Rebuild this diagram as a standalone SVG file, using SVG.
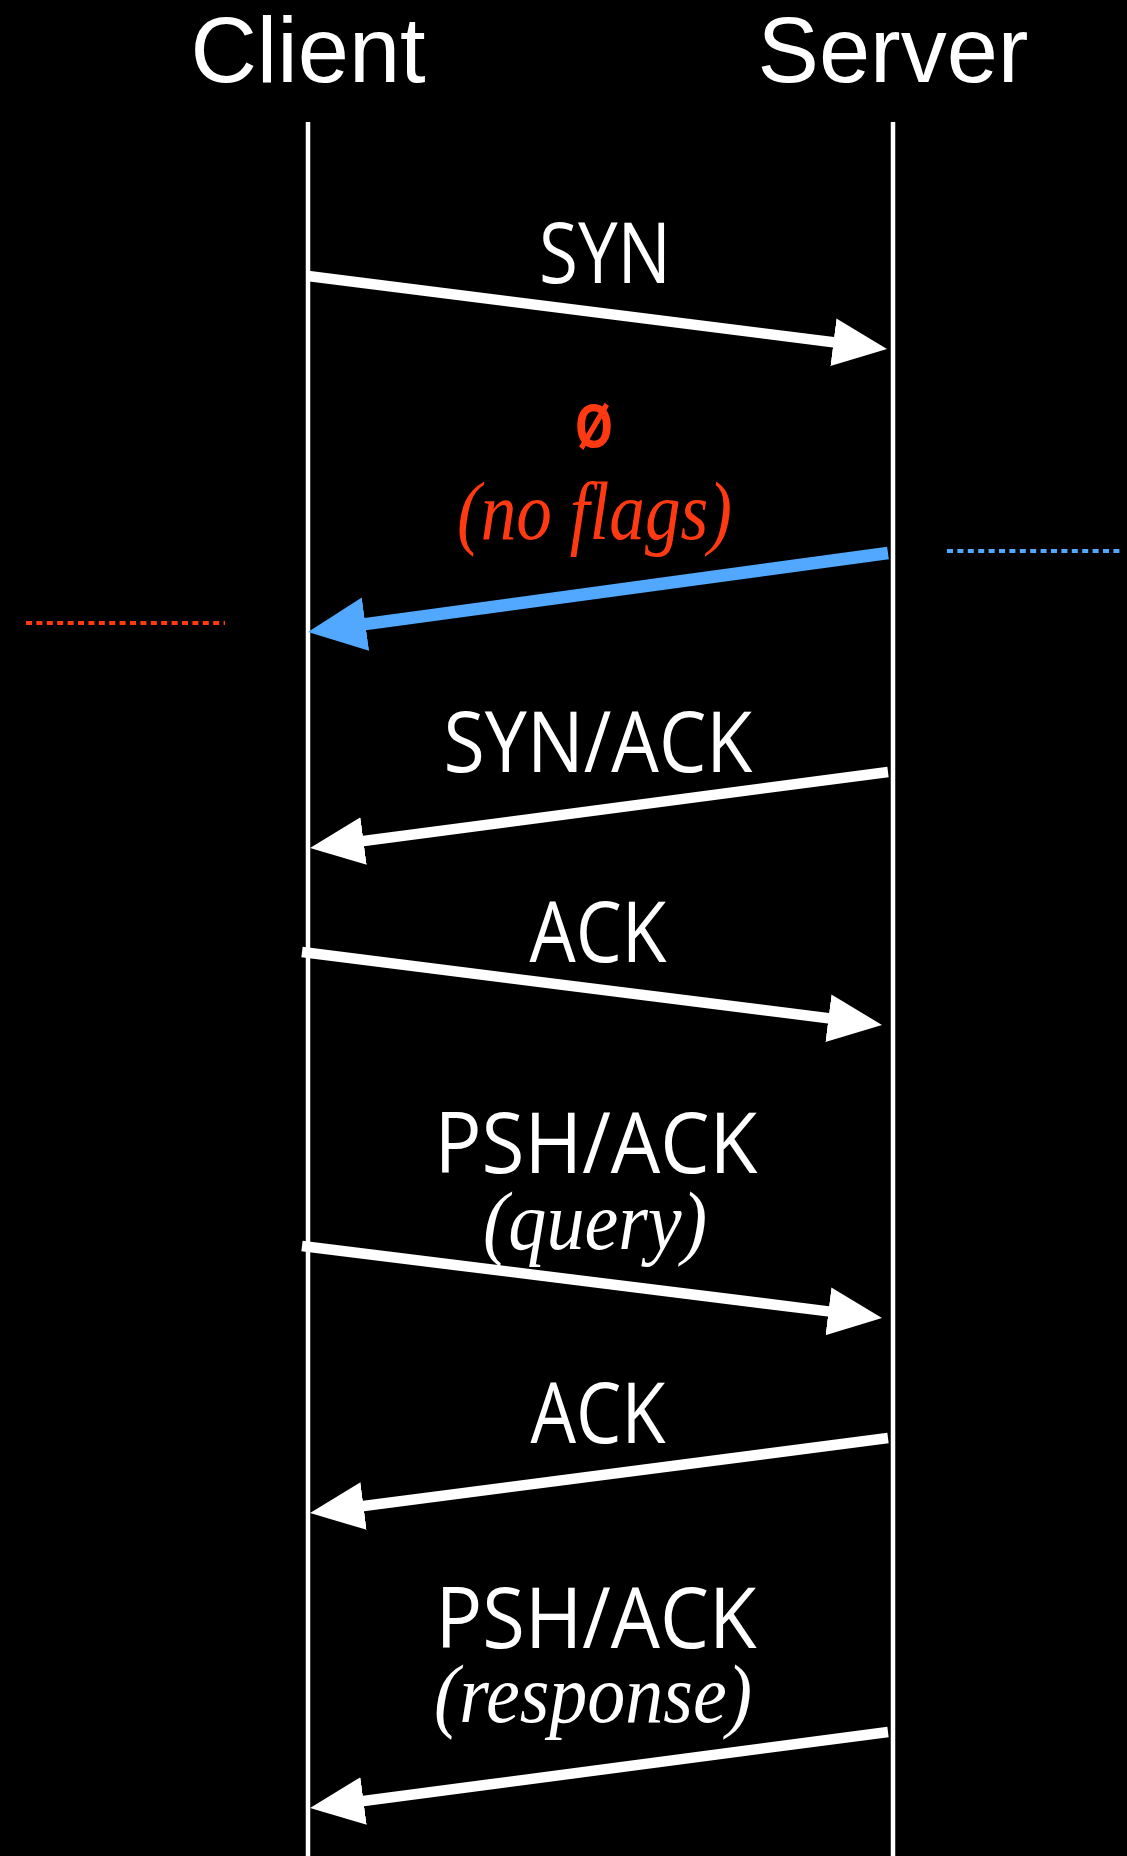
<svg xmlns="http://www.w3.org/2000/svg" width="1127" height="1856" viewBox="0 0 1127 1856">
  <style>
    .hdr { font-family: "Liberation Sans", Arial, sans-serif; font-size: 92px; fill: #fff; text-anchor: middle; }
    .lbl { font-family: "Open Sans", "Noto Sans", sans-serif; font-size: 84px; fill: #fff; text-anchor: middle; }
    .sub { font-family: "Liberation Serif", "Times New Roman", serif; font-style: italic; font-size: 82px; fill: #fff; text-anchor: middle; }
    .red { fill: #FF3A12; }
    .life { stroke: #fff; stroke-width: 4.5; fill: none; }
    .msg { stroke: #fff; stroke-width: 10.5; fill: none; marker-end: url(#ah); }
    .msgb { stroke: #52A8FF; stroke-width: 12.5; fill: none; marker-end: url(#ahb); }
    .dot { stroke-width: 4; stroke-dasharray: 6 4.4; fill: none; }
  </style>
  <defs>
    <marker id="ah" markerUnits="userSpaceOnUse" viewBox="0 -26 58 52" refX="2" refY="0" markerWidth="58" markerHeight="52" orient="auto">
      <path d="M0,-24 L54,0 L0,24 z" fill="#fff"/>
    </marker>
    <marker id="ahb" markerUnits="userSpaceOnUse" viewBox="0 -28 60 56" refX="2" refY="0" markerWidth="60" markerHeight="56" orient="auto">
      <path d="M0,-27 L58,0 L0,27 z" fill="#52A8FF"/>
    </marker>
  </defs>
  <rect x="0" y="0" width="1127" height="1856" fill="#000"/>

  <g id="client">
    <text class="hdr" x="308" y="82">Client</text>
    <line class="life" x1="308" y1="122" x2="308" y2="1856"/>
  </g>
  <g id="server">
    <text class="hdr" x="893" y="82">Server</text>
    <line class="life" x1="893" y1="122" x2="893" y2="1856"/>
  </g>

  <g id="connectors">
    <line id="syn" class="msg" x1="308" y1="276" x2="835.4" y2="342.5"/>
    <line id="noflags" class="msgb" x1="888" y1="553" x2="363.5" y2="624.4"/>
    <line id="synack" class="msg" x1="888" y1="772" x2="361.6" y2="841.2"/>
    <line id="ack1" class="msg" x1="302" y1="952" x2="830.4" y2="1018.5"/>
    <line id="pshq" class="msg" x1="302" y1="1246" x2="830.4" y2="1311.6"/>
    <line id="ack2" class="msg" x1="888" y1="1438" x2="361.6" y2="1506.3"/>
    <line id="pshr" class="msg" x1="888" y1="1732" x2="361.6" y2="1801.2"/>
    <line class="dot" stroke="#52A8FF" x1="947" y1="551" x2="1122" y2="551"/>
    <line class="dot" stroke="#FF3A12" x1="26" y1="623" x2="225" y2="623"/>
  </g>

  <g id="labels">
    <text class="lbl" x="605" y="283" textLength="132" lengthAdjust="spacingAndGlyphs">SYN</text>
    <text class="lbl red" x="594" y="447" textLength="40" lengthAdjust="spacingAndGlyphs" style="font-weight:600;font-size:78px">ø</text>
    <text class="sub red" x="594.5" y="539" textLength="275" lengthAdjust="spacingAndGlyphs">(no flags)</text>
    <text class="lbl" x="598" y="772" textLength="309" lengthAdjust="spacingAndGlyphs">SYN/ACK</text>
    <text class="lbl" x="598" y="962" textLength="137" lengthAdjust="spacingAndGlyphs">ACK</text>
    <text class="lbl" x="596" y="1173" textLength="323" lengthAdjust="spacingAndGlyphs">PSH/ACK</text>
    <text class="sub" x="595" y="1249" textLength="224" lengthAdjust="spacingAndGlyphs">(query)</text>
    <text class="lbl" x="598" y="1443" textLength="135" lengthAdjust="spacingAndGlyphs">ACK</text>
    <text class="lbl" x="596" y="1648" textLength="321" lengthAdjust="spacingAndGlyphs">PSH/ACK</text>
    <text class="sub" x="593" y="1722" textLength="318" lengthAdjust="spacingAndGlyphs">(response)</text>
  </g>
</svg>
